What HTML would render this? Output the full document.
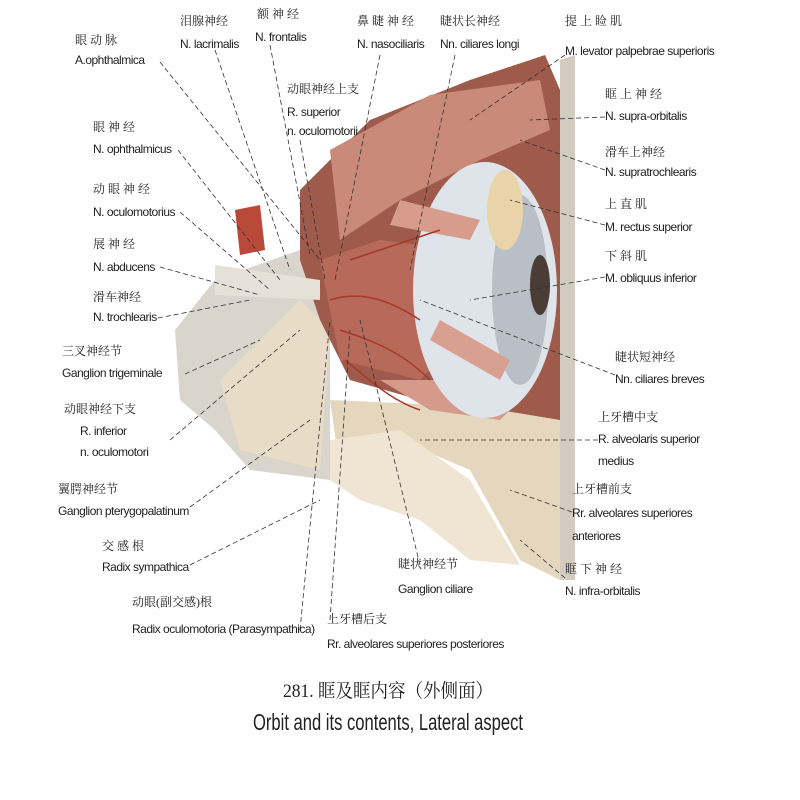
<!DOCTYPE html>
<html><head><meta charset="utf-8"><style>
html,body{margin:0;padding:0;background:#fff;}
svg{display:block;}
text{font-family:"Liberation Sans","Noto Sans CJK SC",sans-serif;fill:#222;}
.e{font-size:12px;letter-spacing:-0.5px;}
.c{font-size:12px;font-family:"Liberation Serif","Noto Serif CJK SC",serif;}
line{stroke:#333;stroke-width:0.8;stroke-dasharray:5,3;}
.v{stroke:#a8382a;stroke-width:1.5;fill:none;}
</style></head><body>
<svg width="800" height="800" viewBox="0 0 800 800">
<polygon points="175,330 215,280 300,250 330,300 330,480 250,470 215,430 180,400" fill="#d9d4cc"/>
<polygon points="220,380 300,300 330,330 320,470 240,450" fill="#e8dcc6"/>
<polygon points="330,400 560,410 560,580 520,560 470,470 400,440 340,470" fill="#e5d7bd"/>
<polygon points="330,440 400,430 470,480 520,565 470,560 420,520 360,500 330,480" fill="#f0e5d2"/>
<polygon points="300,190 370,120 470,80 545,55 560,90 560,420 500,410 420,400 350,380 320,320 300,260" fill="#9e5a4a"/>
<polygon points="330,150 430,95 540,80 550,130 480,160 400,200 340,240" fill="#c98a7a"/>
<polygon points="320,260 380,240 460,250 470,330 420,380 340,360" fill="#b86a5a"/>
<polygon points="380,380 460,380 520,400 500,420 430,410" fill="#d69a8a"/>
<ellipse cx="485" cy="290" rx="72" ry="128" fill="#dfe3ea"/>
<ellipse cx="520" cy="290" rx="28" ry="95" fill="#b9bfc6"/>
<ellipse cx="540" cy="285" rx="10" ry="30" fill="#4a3d35"/>
<ellipse cx="505" cy="210" rx="18" ry="40" fill="#e9d3a8"/>
<polygon points="400,200 480,220 470,240 390,225" fill="#d79c8c"/>
<polygon points="440,320 510,360 500,380 430,340" fill="#d8a090"/>
<polygon points="235,210 260,205 265,250 240,255" fill="#b94a3a"/>
<polygon points="215,265 320,280 320,300 215,295" fill="#e6e1d8"/>
<polygon points="560,60 575,55 575,580 560,580" fill="#d3cbc0"/>
<path class="v" d="M330,300 C360,290 390,300 420,320 M340,330 C370,340 400,350 430,380 M350,260 C380,250 410,240 440,230 M345,360 C370,380 390,400 420,410"/>
<line x1="160" y1="62" x2="320" y2="260"/>
<line x1="215" y1="50" x2="290" y2="270"/>
<line x1="270" y1="45" x2="310" y2="255"/>
<line x1="300" y1="140" x2="325" y2="280"/>
<line x1="380" y1="55" x2="335" y2="280"/>
<line x1="455" y1="55" x2="410" y2="270"/>
<line x1="565" y1="55" x2="470" y2="120"/>
<line x1="605" y1="117" x2="530" y2="120"/>
<line x1="605" y1="170" x2="520" y2="140"/>
<line x1="605" y1="225" x2="510" y2="200"/>
<line x1="605" y1="277" x2="470" y2="300"/>
<line x1="178" y1="150" x2="280" y2="280"/>
<line x1="180" y1="212" x2="270" y2="290"/>
<line x1="160" y1="267" x2="260" y2="295"/>
<line x1="158" y1="318" x2="250" y2="300"/>
<line x1="185" y1="374" x2="260" y2="340"/>
<line x1="170" y1="440" x2="300" y2="330"/>
<line x1="190" y1="507" x2="310" y2="420"/>
<line x1="190" y1="565" x2="320" y2="500"/>
<line x1="300" y1="630" x2="330" y2="320"/>
<line x1="330" y1="620" x2="350" y2="330"/>
<line x1="420" y1="565" x2="360" y2="320"/>
<line x1="615" y1="375" x2="420" y2="300"/>
<line x1="598" y1="440" x2="420" y2="440"/>
<line x1="572" y1="512" x2="510" y2="490"/>
<line x1="565" y1="578" x2="520" y2="540"/>
<text class="c" x="75" y="44">眼  动  脉</text><text class="e" x="75" y="64">A.ophthalmica</text>
<text class="c" x="180" y="25">泪腺神经</text><text class="e" x="180" y="48">N. lacrimalis</text>
<text class="c" x="257" y="18">额 神 经</text><text class="e" x="255" y="41">N. frontalis</text>
<text class="c" x="287" y="93">动眼神经上支</text><text class="e" x="287" y="116">R. superior</text><text class="e" x="287" y="135">n. oculomotorii</text>
<text class="c" x="357" y="25">鼻 睫 神 经</text><text class="e" x="357" y="48">N. nasociliaris</text>
<text class="c" x="440" y="25">睫状长神经</text><text class="e" x="440" y="48">Nn. ciliares longi</text>
<text class="c" x="565" y="25">提 上 睑 肌</text><text class="e" x="565" y="55">M. levator palpebrae superioris</text>
<text class="c" x="605" y="98">眶 上 神 经</text><text class="e" x="605" y="120">N. supra-orbitalis</text>
<text class="c" x="605" y="156">滑车上神经</text><text class="e" x="605" y="176">N. supratrochlearis</text>
<text class="c" x="605" y="208">上   直   肌</text><text class="e" x="605" y="231">M. rectus superior</text>
<text class="c" x="605" y="260">下   斜   肌</text><text class="e" x="605" y="282">M. obliquus inferior</text>
<text class="c" x="93" y="131">眼   神   经</text><text class="e" x="93" y="153">N. ophthalmicus</text>
<text class="c" x="93" y="193">动 眼 神 经</text><text class="e" x="93" y="216">N. oculomotorius</text>
<text class="c" x="93" y="248">展   神   经</text><text class="e" x="93" y="271">N. abducens</text>
<text class="c" x="93" y="301">滑车神经</text><text class="e" x="93" y="321">N. trochlearis</text>
<text class="c" x="62" y="355">三叉神经节</text><text class="e" x="62" y="377">Ganglion trigeminale</text>
<text class="c" x="64" y="413">动眼神经下支</text><text class="e" x="80" y="435">R. inferior</text><text class="e" x="80" y="456">n. oculomotori</text>
<text class="c" x="58" y="493">翼腭神经节</text><text class="e" x="58" y="515">Ganglion pterygopalatinum</text>
<text class="c" x="102" y="550">交   感   根</text><text class="e" x="102" y="571">Radix sympathica</text>
<text class="c" x="132" y="606">动眼(副交感)根</text><text class="e" x="132" y="633">Radix oculomotoria (Parasympathica)</text>
<text class="c" x="327" y="623">上牙槽后支</text><text class="e" x="327" y="648">Rr. alveolares superiores posteriores</text>
<text class="c" x="398" y="568">睫状神经节</text><text class="e" x="398" y="593">Ganglion ciliare</text>
<text class="c" x="615" y="361">睫状短神经</text><text class="e" x="615" y="383">Nn. ciliares breves</text>
<text class="c" x="598" y="421">上牙槽中支</text><text class="e" x="598" y="443">R. alveolaris superior</text><text class="e" x="598" y="465">medius</text>
<text class="c" x="572" y="493">上牙槽前支</text><text class="e" x="572" y="517">Rr. alveolares superiores</text><text class="e" x="572" y="540">anteriores</text>
<text class="c" x="565" y="573">眶   下   神   经</text><text class="e" x="565" y="595">N. infra-orbitalis</text>
<text x="283" y="697" textLength="210" lengthAdjust="spacingAndGlyphs" style="font-size:19px;font-family:'Liberation Serif','Noto Serif CJK SC',serif">281. 眶及眶内容（外侧面）</text>
<text x="253" y="730" textLength="270" lengthAdjust="spacingAndGlyphs" style="font-size:23px">Orbit and its contents, Lateral aspect</text>
</svg>
</body></html>
